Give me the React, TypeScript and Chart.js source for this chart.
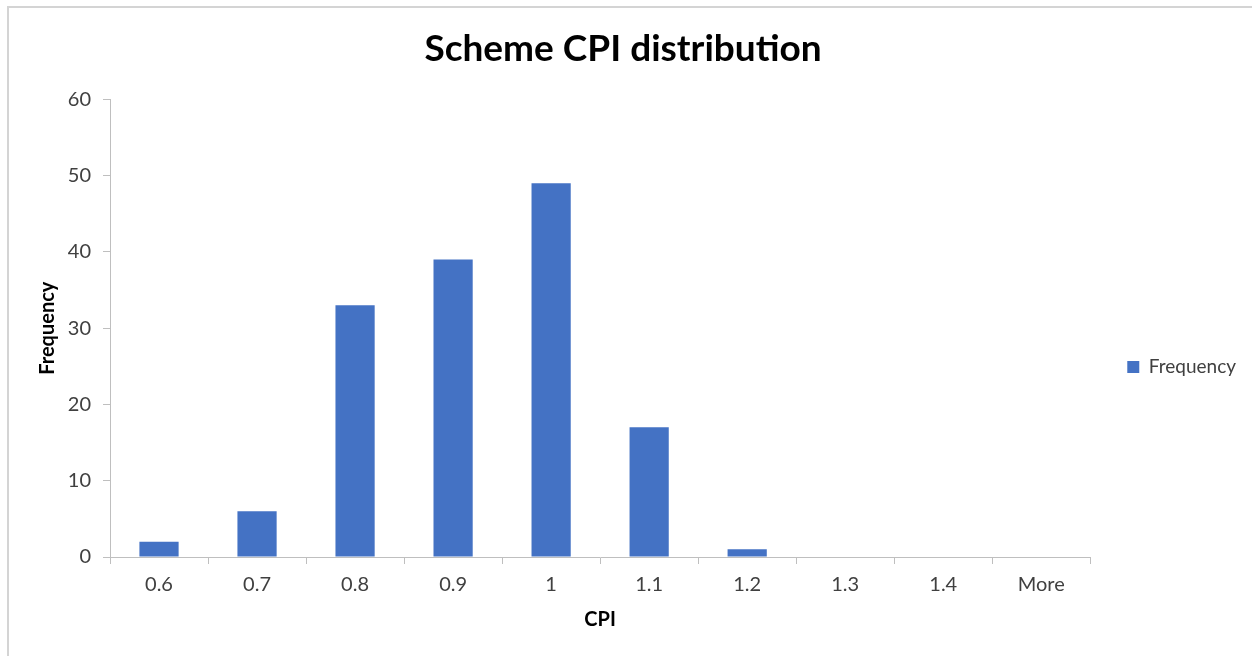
import React, { useEffect, useRef } from "react";
import { Chart, registerables } from "chart.js";

Chart.register(...registerables);

const categories = ["0.6", "0.7", "0.8", "0.9", "1", "1.1", "1.2", "1.3", "1.4", "More"];
const frequency = [2, 6, 33, 39, 49, 17, 1, 0, 0, 0];
const yTicks = { min: 0, max: 60, step: 10 };
const titleText = "Scheme CPI distribution";
const xTitle = "CPI";
const yTitle = "Frequency";
const seriesName = "Frequency";

const FONT = "Lato";
const AXIS = "#bfbfbf";

export default function App() {
  const ref = useRef<HTMLCanvasElement | null>(null);

  useEffect(() => {
    if (!ref.current) return;
    const chart = new Chart(ref.current, {
      type: "bar",
      data: {
        labels: categories,
        datasets: [
          {
            label: seriesName,
            data: frequency,
            backgroundColor: "#4472C4",
            borderWidth: 0,
            barPercentage: 0.4,
            categoryPercentage: 1,
          },
        ],
      },
      options: {
        animation: false,
        responsive: false,
        maintainAspectRatio: false,
        layout: { padding: { top: 0, left: 0, right: 6, bottom: 0 } },
        plugins: {
          title: {
            display: true,
            text: titleText,
            color: "#000000",
            font: { family: FONT, size: 37, weight: "bold" },
            padding: { top: 27, bottom: 28 },
          },
          legend: {
            display: true,
            position: "right",
            align: "center",
            title: { display: true, text: "", font: { size: 1 }, padding: { top: 77, bottom: 0 } },
            labels: {
              boxWidth: 12,
              boxHeight: 12,
              padding: 10,
              color: "#404040",
              font: { family: FONT, size: 19 },
            },
          },
          tooltip: { enabled: false },
        },
        scales: {
          x: {
            grid: {
              display: true,
              drawOnChartArea: false,
              drawTicks: true,
              tickLength: 7,
              color: AXIS,
              offset: true,
            },
            border: { display: true, color: AXIS, width: 1 },
            ticks: { color: "#404040", font: { family: FONT, size: 20 }, padding: 9, maxRotation: 0 },
            title: {
              display: true,
              text: xTitle,
              color: "#000000",
              font: { family: FONT, size: 20, weight: "bold" },
              padding: { top: 0, bottom: 24 },
            },
            afterFit: (s: any) => {
              s.height = 99;
            },
          },
          y: {
            min: yTicks.min,
            max: yTicks.max,
            grid: {
              display: true,
              drawOnChartArea: false,
              drawTicks: true,
              tickLength: 7,
              color: AXIS,
            },
            border: { display: true, color: AXIS, width: 1 },
            ticks: {
              stepSize: yTicks.step,
              color: "#404040",
              font: { family: FONT, size: 20 },
              padding: 12,
            },
            title: {
              display: true,
              text: yTitle,
              color: "#000000",
              font: { family: FONT, size: 20, weight: "bold" },
              padding: { top: 36, bottom: 0 },
            },
            afterFit: (s: any) => {
              s.width = 110;
            },
          },
          y2: {
            type: "linear",
            position: "right",
            display: true,
            grid: { display: false },
            border: { display: false },
            ticks: { display: false },
            afterFit: (s: any) => {
              s.width = 27;
            },
          },
        },
      } as any,
    });
    return () => chart.destroy();
  }, []);

  return (
    <div style={{ position: "fixed", left: 0, top: 0, width: 1252, height: 656, overflow: "hidden", background: "#ffffff" }}>
      <div
        style={{
          position: "absolute",
          left: 7,
          top: 6,
          width: 1300,
          height: 700,
          border: "2px solid #d4d4d4",
          boxSizing: "border-box",
        }}
      />
      <canvas ref={ref} width={1252} height={656} style={{ position: "absolute", left: 0, top: 0, width: 1252, height: 656 }} />
    </div>
  );
}
